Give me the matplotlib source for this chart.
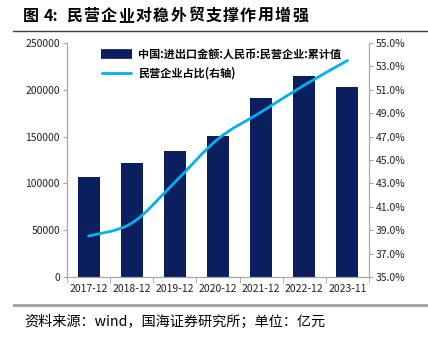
import matplotlib.pyplot as plt
from matplotlib.path import Path
from matplotlib.patches import PathPatch
from matplotlib.lines import Line2D
from matplotlib.ticker import FuncFormatter

plt.rcParams['font.family'] = ['Noto Sans CJK SC', 'DejaVu Sans']

# data
periods = ['2017-12', '2018-12', '2019-12', '2020-12', '2021-12', '2022-12', '2023-11']
trade_value = [107000, 121500, 134500, 150500, 191000, 214500, 203000]
private_share = [38.5, 39.6, 43.1, 46.8, 49.1, 51.4, 53.5]

bar_color = '#0B1F5E'
line_color = '#00B0F0'
axis_grey = '#A6A6A6'

W, H = 428, 337
fig = plt.figure(figsize=(W / 100, H / 100), dpi=100)
ax = fig.add_axes([67 / W, 1 - 277 / H, 302 / W, 234 / H])
ax2 = ax.twinx()

x = list(range(len(periods)))
ax.bar(x, trade_value, width=0.51, color=bar_color, zorder=2)

# smoothed line (catmull-rom -> cubic bezier, like excel's smooth line)
pts = list(zip(x, private_share))
verts = [pts[0]]
codes = [Path.MOVETO]
for i in range(len(pts) - 1):
    p0 = pts[i - 1] if i > 0 else pts[i]
    p1 = pts[i]
    p2 = pts[i + 1]
    p3 = pts[i + 2] if i + 2 < len(pts) else pts[i + 1]
    c1 = (p1[0] + (p2[0] - p0[0]) / 6, p1[1] + (p2[1] - p0[1]) / 6)
    c2 = (p2[0] - (p3[0] - p1[0]) / 6, p2[1] - (p3[1] - p1[1]) / 6)
    verts += [c1, c2, p2]
    codes += [Path.CURVE4] * 3
ax2.add_patch(PathPatch(Path(verts, codes), facecolor='none', edgecolor=line_color,
                        lw=2.0, capstyle='round', zorder=3))

ax.set_xlim(-0.5, len(periods) - 0.5)
ax.set_ylim(0, 250000)
ax.set_yticks(range(0, 250001, 50000))
ax2.set_ylim(35, 55)
ax2.set_yticks([35 + 2 * i for i in range(11)])
ax2.yaxis.set_major_formatter(FuncFormatter(lambda v, p: f'{v:.1f}%'))

ax.set_xticks(x)
ax.set_xticklabels(periods)
ax.set_xticks([i + 0.5 for i in range(-1, len(periods))], minor=True)
ax.tick_params(axis='x', which='major', length=0, labelsize=7.5, pad=5, colors='#222222')
ax.tick_params(axis='x', which='minor', length=4, color=axis_grey)
ax.tick_params(axis='y', length=3, color=axis_grey, labelsize=7.5, labelcolor='#222222', pad=2)
ax2.tick_params(axis='y', length=3, color=axis_grey, labelsize=7.5, labelcolor='#222222', pad=2)

for a in (ax, ax2):
    a.spines['top'].set_visible(False)
    for s in ('left', 'right', 'bottom'):
        a.spines[s].set_color(axis_grey)
        a.spines[s].set_linewidth(0.8)

handles = [Line2D([], [], color=bar_color, lw=7, solid_capstyle='butt'),
           Line2D([], [], color=line_color, lw=2.0, solid_capstyle='butt')]
labels = ['中国:进出口金额:人民币:民营企业:累计值', '民营企业占比(右轴)']
ax.legend(handles, labels, loc='upper left', bbox_to_anchor=(0.08, 1.02),
          frameon=False, handlelength=2.8, handletextpad=0.55,
          labelspacing=0.5, prop={'weight': 'bold', 'size': 8})

# title, spaced out like the report's heading style
ty = 1 - 21 / H
fig.text(23 / W, ty, '图', fontsize=11.5, fontweight='bold', va='baseline')
fig.text(44 / W, ty, '4:', fontsize=11.5, fontweight='bold', va='baseline')
for k, ch in enumerate('民营企业对稳外贸支撑作用增强'):
    fig.text((66 + 17.4 * k) / W, ty, ch, fontsize=11.5, fontweight='bold', va='baseline')

fig.add_artist(Line2D([13 / W, 1], [1 - 31 / H, 1 - 31 / H], color='#404040', lw=1))
fig.add_artist(Line2D([14 / W, 1], [1 - 305 / H, 1 - 305 / H], color='#A0A0A0', lw=2))
fig.text(24 / W, 1 - 322 / H, '资料来源：wind，国海证券研究所；单位：亿元', fontsize=10.2,
         va='center', ha='left')

fig.savefig('out.png', dpi=100)
